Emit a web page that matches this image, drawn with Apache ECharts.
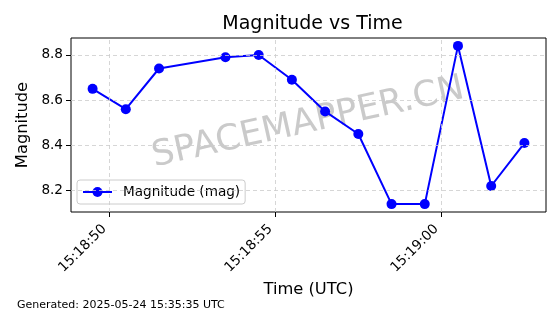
<!DOCTYPE html>
<html>
<head>
<meta charset="utf-8">
<script src="https://cdn.jsdelivr.net/npm/echarts@6/dist/echarts.min.js"></script>
<style>
html,body{margin:0;padding:0;background:#fff;}
#c{width:560px;height:314px;}
</style>
</head>
<body>
<div id="c"></div>
<script>
// ---- data ----
var times = ["15:18:49.5","15:18:50.5","15:18:51.5","15:18:53.5","15:18:54.5","15:18:55.5","15:18:56.5","15:18:57.5","15:18:58.5","15:18:59.5","15:19:00.5","15:19:01.5","15:19:02.5"];
var magnitudes = [8.65, 8.56, 8.74, 8.79, 8.80, 8.69, 8.55, 8.45, 8.14, 8.14, 8.84, 8.22, 8.41];
var xTickLabels = ["15:18:50","15:18:55","15:19:00"];
var yTickLabels = ["8.2","8.4","8.6","8.8"];
var seriesName = "Magnitude (mag)";
var titleText = "Magnitude vs Time";
var xAxisTitle = "Time (UTC)";
var yAxisTitle = "Magnitude";
var footerText = "Generated: 2025-05-24 15:35:35 UTC";
var watermarkText = "SPACEMAPPER.CN";

// ---- helpers ----
var BASE_H = 15, BASE_M = 18;
function toSec(t){
  var p = t.split(":");
  return (parseFloat(p[0]) - BASE_H) * 3600 + (parseFloat(p[1]) - BASE_M) * 60 + parseFloat(p[2]);
}
function pad(n){ return (n < 10 ? "0" : "") + n; }
function fmtSec(s){
  var total = Math.round(BASE_H * 3600 + BASE_M * 60 + s);
  var h = Math.floor(total / 3600), m = Math.floor((total % 3600) / 60), sec = total % 60;
  return pad(h) + ":" + pad(m) + ":" + pad(sec);
}
var xs = times.map(toSec);
var xTickVals = xTickLabels.map(toSec);
var yTickVals = yTickLabels.map(parseFloat);
var data = xs.map(function(x, i){ return [x, magnitudes[i]]; });

var xMinD = Math.min.apply(null, xs), xMaxD = Math.max.apply(null, xs);
var yMinD = Math.min.apply(null, magnitudes), yMaxD = Math.max.apply(null, magnitudes);
var xm = (xMaxD - xMinD) * 0.05, ym = (yMaxD - yMinD) * 0.05;

var FONT = "DejaVu Sans";
var gridStyle = {color: "#cccccc", width: 0.8, type: [4, 3]};

var gridLines = [];
xTickVals.forEach(function(v){ gridLines.push({xAxis: v}); });
yTickVals.forEach(function(v){ gridLines.push({yAxis: v}); });

var chart = echarts.init(document.getElementById("c"), null, {renderer: "canvas"});
chart.setOption({
  animation: false,
  backgroundColor: "#fff",
  textStyle: {fontFamily: FONT},
  title: {
    text: titleText,
    left: 307.5, top: 10, textAlign: "center",
    textStyle: {fontFamily: FONT, fontSize: 19, fontWeight: "normal", color: "#000"}
  },
  grid: {left: 71, top: 38, width: 475, height: 174, show: true, borderColor: "#000", borderWidth: 1, backgroundColor: "transparent"},
  legend: {
    data: [seriesName],
    left: 77, top: 180,
    orient: "vertical",
    itemWidth: 29, itemHeight: 12.5,
    padding: [5, 5, 5, 5],
    backgroundColor: "rgba(255,255,255,0.8)",
    borderColor: "#cccccc", borderWidth: 1, borderRadius: 3,
    textStyle: {fontFamily: FONT, fontSize: 13.6, color: "#000", padding: [0, 0, 0, 6]}
  },
  xAxis: {
    type: "value",
    min: xMinD - xm, max: xMaxD + xm,
    name: xAxisTitle, nameLocation: "middle", nameGap: 70,
    nameTextStyle: {fontFamily: FONT, fontSize: 16.3, color: "#000"},
    axisLine: {show: false},
    axisTick: {show: true, customValues: xTickVals, length: 5, lineStyle: {color: "#000", width: 1}},
    axisLabel: {
      customValues: xTickVals, rotate: 45, margin: 10,
      padding: [0, 7, 0, 0],
      fontFamily: FONT, fontSize: 13.6, color: "#000",
      formatter: function(v){ return fmtSec(v); }
    },
    splitLine: {show: false}
  },
  yAxis: {
    type: "value",
    min: yMinD - ym, max: yMaxD + ym,
    name: yAxisTitle, nameLocation: "middle", nameGap: 40,
    nameTextStyle: {fontFamily: FONT, fontSize: 16.3, color: "#000"},
    axisLine: {show: false},
    axisTick: {show: true, customValues: yTickVals, length: 5, lineStyle: {color: "#000", width: 1}},
    axisLabel: {
      customValues: yTickVals, margin: 8,
      fontFamily: FONT, fontSize: 13.6, color: "#000",
      formatter: function(v){ return v.toFixed(1); }
    },
    splitLine: {show: false}
  },
  graphic: [
    {
      type: "text", z: 1, silent: true,
      x: 308, y: 123, rotation: 12.5 * Math.PI / 180,
      style: {text: watermarkText, fontFamily: FONT, fontSize: 35.5, fill: "rgba(128,128,128,0.42)", align: "center", verticalAlign: "middle"}
    },
    {
      type: "text", silent: true,
      left: 17, top: 300,
      style: {text: footerText, fontFamily: FONT, fontSize: 11, fill: "#000"}
    }
  ],
  series: [
    {
      name: "grid", type: "line", data: [], z: 0, silent: true,
      markLine: {silent: true, symbol: ["none", "none"], label: {show: false}, lineStyle: gridStyle, animation: false, data: gridLines}
    },
    {
      name: seriesName, type: "line", data: data, z: 3,
      symbol: "circle", symbolSize: 10,
      lineStyle: {color: "#0000ff", width: 2},
      itemStyle: {color: "#0000ff"}
    }
  ]
});
</script>
</body>
</html>
